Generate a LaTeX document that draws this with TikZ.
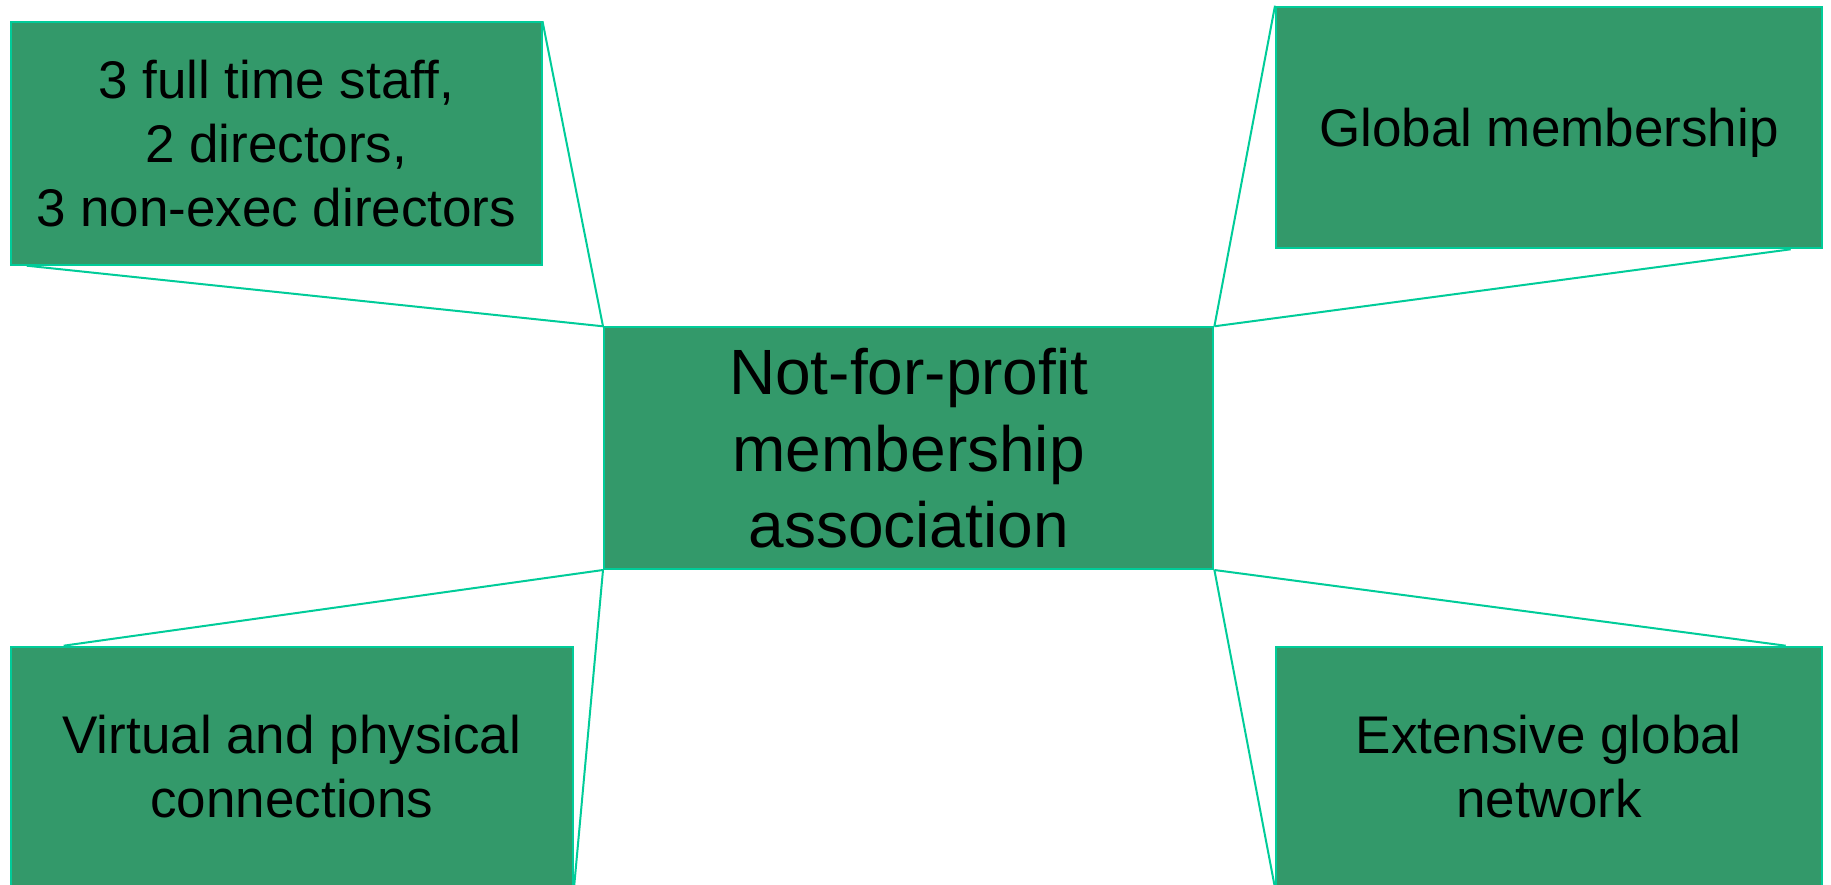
\documentclass[tikz,border=0pt]{standalone}
\usepackage{fontspec}
\setmainfont{Liberation Sans}
\usetikzlibrary{calc}
\definecolor{boxfill}{RGB}{51,153,106}
\definecolor{edgecol}{RGB}{0,204,153}
\begin{document}
\begin{tikzpicture}[x=1pt,y=-1pt,
  box/.style={draw=edgecol, fill=boxfill, line width=2pt, inner sep=0pt, align=center, text=black},
  sidetext/.style={font=\fontsize{53}{63.6}\selectfont},
  maintext/.style={font=\fontsize{64}{76.8}\selectfont},
  link/.style={draw=edgecol, line width=2pt}]
\useasboundingbox (0,0) rectangle (1831,885);
\clip (0,0) rectangle (1831,885);
\fill[white] (0,0) rectangle (1831,885);
% boxes
\node[box, sidetext, minimum width=530.8pt, minimum height=242.4pt] (tl) at (276.1,143.5)
  {3 full time staff,\\2 directors,\\3 non-exec directors};
\node[box, sidetext, minimum width=545.7pt, minimum height=241.6pt, text depth=0pt] (tr) at (1548.85,127.5)
  {Global membership};
\node[box, maintext, minimum width=609.4pt, minimum height=241.7pt] (c) at (908.7,448.15)
  {Not-for-profit\\membership\\association};
\node[box, sidetext, minimum width=562.3pt, minimum height=240.3pt] (bl) at (291.85,766.85)
  {Virtual and physical\\connections};
\node[box, sidetext, minimum width=545.7pt, minimum height=240.3pt] (br) at (1548.85,766.85)
  {Extensive global\\network};
% connectors
\draw[link] (tl.north east) -- (c.north west);
\draw[link] ($(tl.south west)+(17,0)$) -- (c.north west);
\draw[link] (tr.north west) -- (c.north east);
\draw[link] ($(tr.south east)+(-32,0)$) -- (c.north east);
\draw[link] ($(bl.north west)+(54,0)$) -- (c.south west);
\draw[link] (bl.south east) -- (c.south west);
\draw[link] ($(br.north east)+(-37,0)$) -- (c.south east);
\draw[link] (br.south west) -- (c.south east);
\end{tikzpicture}
\end{document}
